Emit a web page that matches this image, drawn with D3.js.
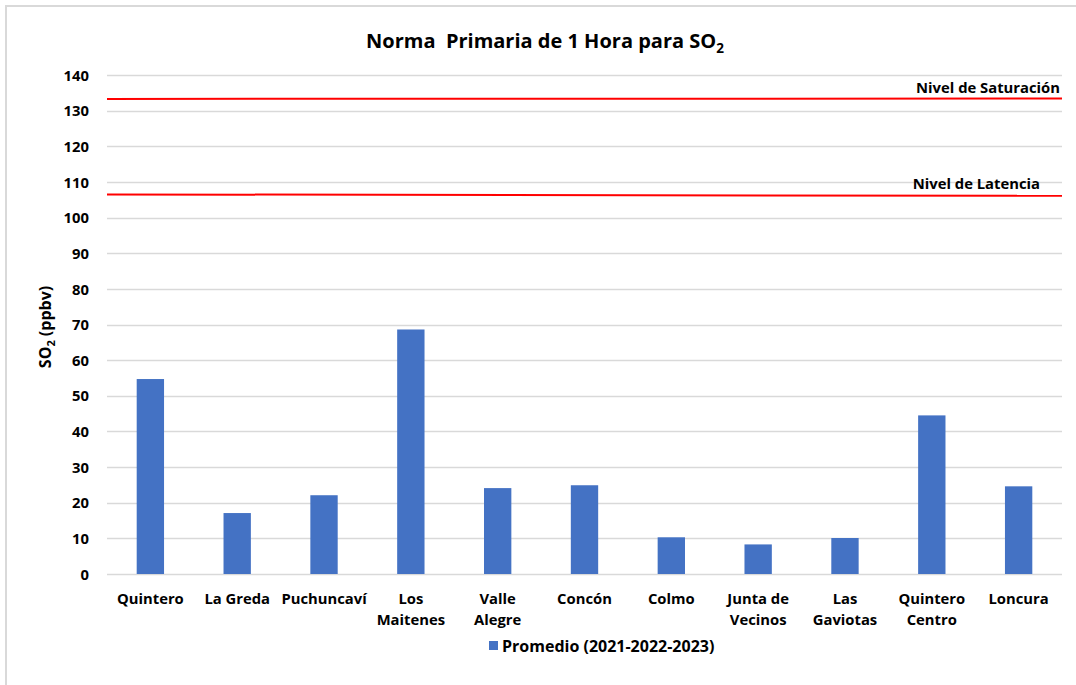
<!DOCTYPE html>
<meta charset="utf-8">
<script src="https://d3js.org/d3.v7.min.js"></script>
<style>
  body { margin: 0; background: #fff; }
  svg text { font-family: "Open Sans", Lato, sans-serif; font-weight: bold; fill: #000; white-space: pre; }
</style>
<div id="chart"></div>
<script>
// data
var stations = [["Quintero"], ["La Greda"], ["Puchuncaví"], ["Los", "Maitenes"], ["Valle", "Alegre"],
  ["Concón"], ["Colmo"], ["Junta de", "Vecinos"], ["Las", "Gaviotas"], ["Quintero", "Centro"], ["Loncura"]];
var promedio = [54.7, 17.1, 22.1, 68.6, 24.1, 24.9, 10.3, 8.3, 10.1, 44.5, 24.6];
var saturacion = [133.3, 133.4];   // left, right end
var latencia = [106.5, 106.1];
var yTicks = d3.range(0, 141, 10);

var W = 1076, H = 685;
var margin = { top: 75, right: 14, bottom: 111, left: 107 };
var fs = "14.8px";

var svg = d3.select("#chart").append("svg")
  .attr("width", W).attr("height", H);

// outer chart border (only top / left visible in the crop)
svg.append("path")
  .attr("d", "M6,690 L6,6 L1080,6")
  .attr("fill", "none").attr("stroke", "#d9d9d9").attr("stroke-width", 2);

var x = d3.scaleBand()
  .domain(stations.map(function (d) { return d.join(" "); }))
  .range([margin.left, W - margin.right])
  .paddingInner(0.685).paddingOuter(0.342);

var y = d3.scaleLinear().domain([0, 140]).range([H - margin.bottom, margin.top]);

// gridlines
svg.append("g").selectAll("line").data(yTicks).enter().append("line")
  .attr("x1", margin.left).attr("x2", W - margin.right)
  .attr("y1", function (d) { return Math.round(y(d)) + 0.5; })
  .attr("y2", function (d) { return Math.round(y(d)) + 0.5; })
  .attr("stroke", "#d9d9d9").attr("stroke-width", 1.5);

// y axis labels
var yAxis = svg.append("g")
  .attr("transform", "translate(" + margin.left + ",0)")
  .call(d3.axisLeft(y).tickValues(yTicks).tickSize(0).tickPadding(18));
yAxis.select(".domain").remove();
yAxis.selectAll("text").style("font-size", fs).attr("dy", "0.35em");

// bars
svg.append("g").selectAll("rect").data(promedio).enter().append("rect")
  .attr("x", function (d, i) { return x(stations[i].join(" ")); })
  .attr("width", x.bandwidth())
  .attr("y", function (d) { return y(d); })
  .attr("height", function (d) { return y(0) - y(d); })
  .attr("fill", "#4472c4");

// reference lines
function refLine(vals, label, labelX) {
  svg.append("line")
    .attr("x1", margin.left).attr("x2", W - margin.right)
    .attr("y1", y(vals[0])).attr("y2", y(vals[1]))
    .attr("stroke", "#ff0000").attr("stroke-width", 2);
  svg.append("text")
    .attr("x", labelX).attr("y", y((vals[0] + vals[1]) / 2) - 6)
    .attr("text-anchor", "end")
    .style("font-size", fs)
    .text(label);
}
refLine(saturacion, "Nivel de Saturación", 1060);
refLine(latencia, "Nivel de Latencia", 1040);

// category labels
var cat = svg.append("g").selectAll("text").data(stations).enter().append("text")
  .attr("x", function (d) { return x(d.join(" ")) + x.bandwidth() / 2; })
  .attr("y", 604)
  .attr("text-anchor", "middle")
  .style("font-size", fs);
cat.selectAll("tspan").data(function (d) { return d; }).enter().append("tspan")
  .attr("x", function () { return d3.select(this.parentNode).attr("x"); })
  .attr("dy", function (d, i) { return i ? 21 : 0; })
  .text(function (d) { return d; });

// y axis title
var yt = svg.append("text")
  .attr("transform", "translate(51," + 327 + ") rotate(-90)")
  .attr("text-anchor", "middle")
  .style("font-size", "16px");
yt.append("tspan").text("SO");
yt.append("tspan").attr("dy", 4).style("font-size", "11px").text("2");
yt.append("tspan").attr("dy", -4).text(" (ppbv)");

// title
var t = svg.append("text")
  .attr("x", 545).attr("y", 48)
  .attr("text-anchor", "middle")
  .style("font-size", "20px");
t.append("tspan").text("Norma  Primaria de 1 Hora para SO");
t.append("tspan").attr("dy", 5).style("font-size", "13.5px").text("2");

// legend
svg.append("rect").attr("x", 489).attr("y", 641).attr("width", 9).attr("height", 9).attr("fill", "#4472c4");
svg.append("text").attr("x", 502).attr("y", 652).style("font-size", "16px")
  .text("Promedio (2021-2022-2023)");
</script>
